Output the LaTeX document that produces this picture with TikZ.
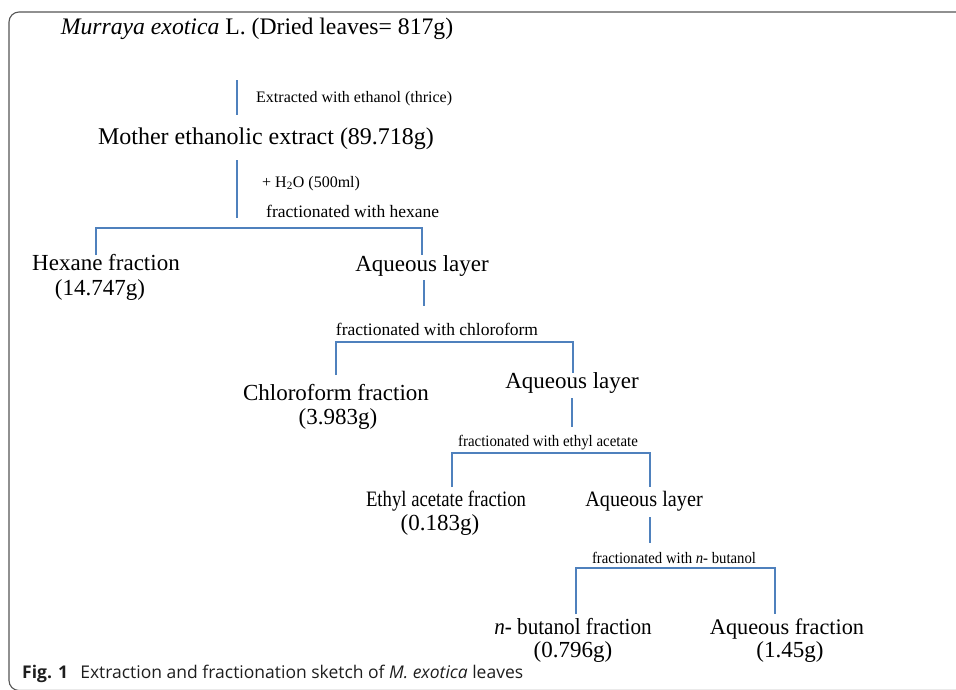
\documentclass[tikz,border=0pt]{standalone}
\usepackage{fontspec}
\setmainfont{Liberation Serif}
\newfontfamily\capfont{Open Sans}
\usetikzlibrary{positioning}
\definecolor{linkblue}{RGB}{79,129,189}
\definecolor{framegray}{RGB}{85,85,85}
\definecolor{captext}{RGB}{30,30,30}
\tikzset{
  bigtxt/.style={inner sep=0pt, anchor=base, font=\fontsize{23}{25}\selectfont},
  smalltxt/.style={inner sep=0pt, anchor=base, font=\fontsize{16}{18}\selectfont},
  fractxt/.style={inner sep=0pt, anchor=base, font=\fontsize{17.5}{19}\selectfont},
  narrow/.style={xscale=#1, transform shape},
  link/.style={draw=linkblue, line width=1.4pt},
}
\begin{document}
\begin{tikzpicture}[x=1pt, y=-1pt]
        \useasboundingbox (0,0) rectangle (956,689);
        \clip (0,0) rectangle (956,689);

        % Rahmen
        \draw[framegray, line width=1.1pt, rounded corners=10pt] (9,12) rectangle (990,690.5);

        % Ausgangsmaterial
        \node[bigtxt, font=\fontsize{23.7}{25}\selectfont] (plant) at (257,34) {\textit{Murraya exotica} L. (Dried leaves= 817g)};
        \node[smalltxt, anchor=base west] (extlbl) at (256,102) {Extracted with ethanol (thrice)};
        \node[bigtxt, font=\fontsize{24}{25}\selectfont] (mother) at (266,144) {Mother ethanolic extract (89.718g)};
        \node[smalltxt, anchor=base west] (waterlbl) at (262,187) {+ H\textsubscript{2}O (500ml)};
        \node[fractxt, anchor=base west] (hexlbl) at (266,217) {fractionated with hexane};

        % Hexan
        \node[bigtxt] (hex) at (106,270) {Hexane fraction};
        \node[bigtxt] (hexw) at (100,295) {(14.747g)};
        \node[bigtxt] (aq1) at (422,271) {Aqueous layer};

        % Chloroform
        \node[fractxt] (chllbl) at (437,335) {fractionated with chloroform};
        \node[bigtxt] (chl) at (336,400) {Chloroform fraction};
        \node[bigtxt] (chlw) at (338,424) {(3.983g)};
        \node[bigtxt] (aq2) at (572,388) {Aqueous layer};

        % Ethylacetat
        \node[smalltxt, narrow=0.93] (ealbl) at (548,446) {fractionated with ethyl acetate};
        \node[bigtxt, font=\fontsize{22}{25}\selectfont, narrow=0.85] (ea) at (446,506) {Ethyl acetate fraction};
        \node[bigtxt] (eaw) at (440,530) {(0.183g)};
        \node[bigtxt, font=\fontsize{22}{25}\selectfont, narrow=0.92] (aq3) at (644,506) {Aqueous layer};

        % Butanol
        \node[smalltxt, narrow=0.92] (butlbl) at (674,563) {fractionated with \textit{n}- butanol};
        \node[bigtxt, narrow=0.92] (but) at (573,634) {\textit{n}- butanol fraction};
        \node[bigtxt] (butw) at (573,657) {(0.796g)};
        \node[bigtxt, font=\fontsize{22.3}{25}\selectfont] (aqf) at (787,634) {Aqueous fraction};
        \node[bigtxt] (aqfw) at (790,657) {(1.45g)};

        % Bildunterschrift
        \node[anchor=base west, inner sep=0pt, text=captext, font=\capfont\fontsize{17.5}{19}\selectfont] (cap) at (22,678)
            {\textbf{Fig. 1}\hspace{0.7em}Extraction and fractionation sketch of \textit{M. exotica} leaves};

        % Verbindungen
        \coordinate (s1top) at (237,80);   \coordinate (s1bot) at (237,115);
        \coordinate (s2top) at (237,160);  \coordinate (s2bot) at (237,218);
        \coordinate (s3top) at (424,280);  \coordinate (s3bot) at (424,306);
        \coordinate (s4top) at (572,398);  \coordinate (s4bot) at (572,427);
        \coordinate (s5top) at (650,517);  \coordinate (s5bot) at (650,543);
        \draw[link] (s1top) -- (s1bot);
        \draw[link] (s2top) -- (s2bot);
        \draw[link] (s3top) -- (s3bot);
        \draw[link] (s4top) -- (s4bot);
        \draw[link] (s5top) -- (s5bot);

        % Verzweigungen
        \coordinate (hexin) at (96,255);   \coordinate (aq1in) at (422,255);
        \coordinate (chlin) at (336,375);  \coordinate (aq2in) at (573,373);
        \coordinate (eain) at (452,487);   \coordinate (aq3in) at (650,487);
        \coordinate (butin) at (576,614);  \coordinate (aqfin) at (775,614);
        \draw[link] (hexin) -- ++(0,-27) -| (aq1in);
        \draw[link] (chlin) -- ++(0,-33) -| (aq2in);
        \draw[link] (eain) -- ++(0,-34) -| (aq3in);
        \draw[link] (butin) -- ++(0,-46) -| (aqfin);

    \end{tikzpicture}
\end{document}
